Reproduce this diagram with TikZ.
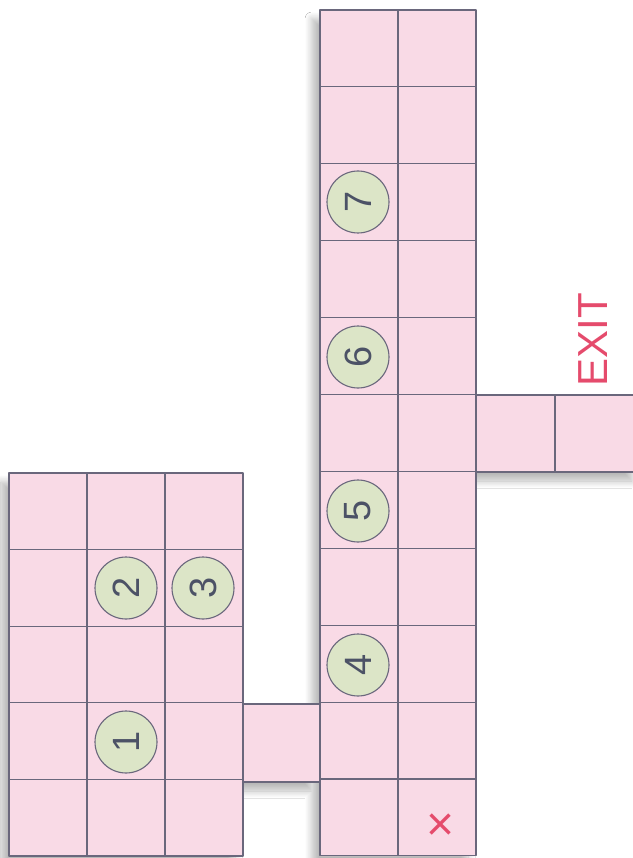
\documentclass[tikz,border=0pt]{standalone}
\usepackage{fontspec}
\setmainfont{Liberation Sans}
\usetikzlibrary{shadows.blur}
\definecolor{mazePink}{HTML}{F9DAE6}
\definecolor{mazeLine}{HTML}{6A677C}
\definecolor{mazeGreen}{HTML}{DCE5C7}
\definecolor{mazeInk}{HTML}{4C5266}
\definecolor{mazeRed}{HTML}{E54B6C}
\begin{document}
\begin{tikzpicture}[x=1pt,y=-1pt,line cap=round,line join=round]
\useasboundingbox (0,0) rectangle (632,858);
\path[fill=white] (0,0) rectangle (632,858);
\tikzset{cell/.style={draw=mazeLine,fill=mazePink,line width=1.1pt},marker/.style={circle,draw=mazeLine,fill=mazeGreen,line width=1.1pt,minimum size=62pt,inner sep=0pt,text=mazeInk,font=\fontsize{38}{38}\selectfont,rotate=90}}
\path[fill=mazePink,blur shadow={shadow xshift=-8pt,shadow yshift=-9pt,shadow blur radius=7pt,shadow blur steps=12,shadow opacity=28}] (320,10) rectangle (476,856) (9,473) rectangle (243,856) (243,704) rectangle (320,782) (476,395) rectangle (640,472);
\foreach \r in {0,...,10} \foreach \c in {0,1} \draw[cell] ({320+78*\c},{10+76.9*\r}) rectangle +(78,76.9);
\foreach \r in {0,...,4} \foreach \c in {0,1,2} \draw[cell] ({9+78*\c},{473+76.6*\r}) rectangle +(78,76.6);
\draw[cell] (243,704) rectangle (320,782);
\draw[cell] (476,395) rectangle (555,472); \draw[cell] (555,395) rectangle (640,472);
\node[marker] (m1) at (126,742) {1};
\node[marker] (m2) at (126,588) {2};
\node[marker] (m3) at (203,588) {3};
\node[marker] (m4) at (358,665) {4};
\node[marker] (m5) at (358,511) {5};
\node[marker] (m6) at (358,357) {6};
\node[marker] (m7) at (358,202) {7};
\node[rotate=90,text=mazeRed,font=\fontsize{42}{42}\selectfont] (exitLabel) at (593,340) {EXIT};
\node[text=mazeRed,font=\fontsize{48}{48}\selectfont] (startMark) at (441,827) {×};
\end{tikzpicture}
\end{document}
